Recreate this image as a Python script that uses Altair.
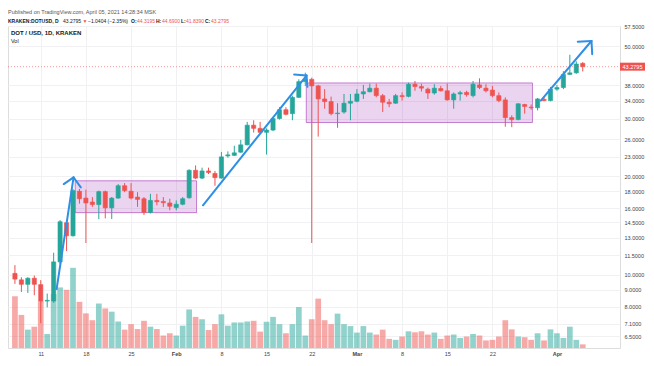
import altair as alt
import pandas as pd

# ---------------- data ----------------
start_date = "2021-01-07"
n_days = 89

opens = [10.11, 9.66, 9.36, 9.77, 9.34, 8.32, 8.32, 10.96, 14.44, 13.17,
         18.02, 17.17, 16.70, 16.40, 17.97, 16.03, 17.17, 18.73, 18.02, 17.29,
         17.09, 15.52, 16.89, 16.77, 16.59, 16.06, 16.44, 17.21, 20.88, 19.76,
         20.78, 20.42, 19.76, 23.10, 23.19, 23.71, 24.97, 28.68, 28.04, 27.27,
         27.71, 30.04, 31.97, 31.10, 34.88, 38.95, 39.60, 37.81, 34.49, 33.86,
         31.10, 31.45, 33.47, 33.93, 35.72, 36.28, 37.21, 35.30, 33.70, 33.47,
         35.30, 35.12, 38.26, 37.63, 36.96, 35.96, 37.11, 36.53, 34.26, 35.72,
         36.11, 35.30, 38.07, 37.21, 36.71, 35.30, 34.26, 30.25, 29.83, 33.17,
         32.55, 32.42, 34.40, 34.09, 36.96, 37.37, 40.98, 41.44, 44.3195]
highs = [10.71, 9.84, 9.84, 9.96, 9.64, 8.77, 11.69, 14.71, 14.60, 18.31,
         18.31, 18.22, 17.29, 18.10, 18.10, 17.29, 18.95, 19.08, 19.08, 17.90,
         17.29, 17.69, 17.69, 17.29, 17.09, 16.89, 17.29, 21.02, 21.61, 21.27,
         21.27, 20.78, 23.76, 23.85, 24.81, 25.86, 29.35, 29.69, 29.35, 28.04,
         30.37, 32.55, 32.55, 35.28, 39.60, 41.50, 40.06, 38.07, 36.96, 35.05,
         33.47, 35.72, 35.72, 36.96, 38.07, 38.41, 38.41, 35.72, 34.49, 35.72,
         36.11, 38.68, 39.14, 38.41, 37.37, 38.26, 37.81, 38.41, 36.11, 36.53,
         36.53, 39.14, 39.87, 38.26, 37.81, 36.11, 34.88, 30.74, 33.47, 33.33,
         33.17, 34.72, 34.88, 37.55, 38.07, 41.93, 47.07, 44.94, 44.69]
lows = [9.39, 8.87, 8.81, 8.67, 7.12, 7.96, 8.22, 10.80, 11.83, 13.10,
        16.51, 12.52, 16.14, 14.81, 14.88, 14.81, 17.09, 17.90, 17.01, 16.14,
        15.24, 15.41, 16.32, 16.14, 15.76, 15.76, 16.32, 17.09, 19.62, 19.62,
        20.33, 18.73, 19.70, 22.81, 23.08, 23.61, 24.90, 27.23, 27.08, 23.32,
        27.49, 29.83, 30.74, 29.69, 34.72, 37.80, 12.52, 26.46, 32.20, 30.74,
        28.15, 31.10, 29.69, 33.70, 34.49, 36.11, 34.88, 31.45, 32.55, 33.33,
        34.09, 34.88, 36.53, 36.35, 34.49, 35.55, 36.35, 34.09, 32.20, 34.09,
        35.05, 34.88, 36.96, 36.11, 34.88, 33.70, 28.37, 28.28, 29.69, 31.10,
        31.97, 31.82, 33.93, 33.93, 36.53, 36.96, 40.90, 41.16, 41.839]
closes = [9.71, 9.36, 9.77, 9.36, 8.32, 8.36, 10.96, 14.54, 13.17, 18.10,
          17.09, 16.59, 16.40, 17.97, 16.03, 17.17, 18.73, 18.10, 17.17, 17.01,
          15.52, 16.89, 16.73, 16.62, 16.21, 16.44, 17.09, 20.88, 19.76, 20.78,
          20.56, 19.82, 22.95, 23.27, 23.61, 24.97, 28.68, 28.04, 27.27, 27.71,
          30.04, 31.97, 30.95, 34.88, 38.95, 39.60, 37.81, 34.49, 33.86, 31.10,
          31.23, 33.47, 33.93, 35.72, 36.28, 37.21, 35.30, 33.70, 33.33, 35.30,
          35.05, 38.26, 37.63, 37.21, 35.96, 37.21, 36.53, 34.26, 35.72, 36.04,
          35.55, 38.26, 37.37, 36.53, 35.30, 34.09, 30.25, 29.83, 33.33, 32.71,
          32.42, 34.49, 34.09, 36.96, 37.37, 40.98, 41.44, 44.11, 43.2795]
volumes = [52.7, 33.7, 18.7, 21.7, 47.7, 14.3, 55.0, 61.7, 59.3, 81.7,
           47.0, 35.3, 28.3, 45.3, 40.3, 37.0, 27.0, 18.7, 24.3, 19.3,
           27.7, 21.7, 19.3, 12.7, 15.0, 12.7, 22.7, 39.3, 31.7, 29.3,
           18.3, 24.3, 34.3, 22.7, 26.0, 26.0, 27.0, 27.7, 16.7, 26.7,
           31.7, 24.3, 15.0, 24.3, 41.7, 12.7, 29.3, 50.3, 28.3, 24.3,
           35.0, 24.3, 22.3, 15.7, 22.3, 15.7, 13.7, 18.7, 9.3, 8.3,
           11.7, 17.0, 16.0, 17.0, 13.7, 15.7, 9.3, 12.7, 13.7, 10.3,
           11.7, 14.3, 12.7, 7.7, 8.3, 11.7, 28.3, 19.0, 11.7, 11.0,
           8.3, 15.0, 7.7, 19.0, 15.0, 10.3, 21.7, 8.3, 3.7]

x_tick_dates = ["2021-01-11", "2021-01-18", "2021-01-25", "2021-02-01",
                "2021-02-08", "2021-02-15", "2021-02-22", "2021-03-01",
                "2021-03-08", "2021-03-15", "2021-03-22", "2021-04-01"]
price_ticks = [6.5, 7.1, 8, 9, 10, 11.5, 13, 14.5, 16, 18, 20, 23, 26, 30,
               34, 38, 50, 57.5]

box_start = ["2021-01-16T08:00Z", "2021-02-21T03:40Z"]
box_end = ["2021-02-04T03:30Z", "2021-03-28T05:00Z"]
box_top = [19.39, 38.60]
box_bottom = [15.50, 29.22]

arrow_from_date = ["2021-01-13T11:00Z", "2021-01-16T02:00Z", "2021-01-16T02:00Z",
                   "2021-02-05T03:30Z", "2021-02-21T04:30Z", "2021-02-21T04:30Z",
                   "2021-03-29T12:00Z", "2021-04-06T08:30Z", "2021-04-06T08:30Z"]
arrow_from_price = [9.05, 19.86, 19.86, 16.32, 40.65, 40.65, 34.09, 51.85, 51.85]
arrow_to_date = ["2021-01-16T02:00Z", "2021-01-14T13:30Z", "2021-01-17T05:00Z",
                 "2021-02-21T04:30Z", "2021-02-19T06:30Z", "2021-02-21T08:00Z",
                 "2021-04-06T08:30Z", "2021-04-04T05:30Z", "2021-04-06T11:15Z"]
arrow_to_price = [19.86, 18.95, 18.52, 40.65, 40.93, 37.55, 51.85, 51.60, 47.27]

last_price = 43.2795
x_domain_dates = ["2021-01-06T16:48Z", "2021-04-10T00:00Z"]
price_domain = [5.98, 57.62]
vol_domain = [0, 328]


def ms(s):
    t = pd.Timestamp(s)
    if t.tzinfo is None:
        t = t.tz_localize("UTC")
    return int(t.value // 10**6)


dates = [ms(d) for d in pd.date_range(start_date, periods=n_days, freq="D").strftime("%Y-%m-%d")]
df = pd.DataFrame({"date": dates, "open": opens, "high": highs, "low": lows,
                   "close": closes, "volume": volumes})
boxes_df = pd.DataFrame({"start": [ms(s) for s in box_start], "end": [ms(s) for s in box_end],
                         "top": box_top, "bottom": box_bottom})
arrows_df = pd.DataFrame({"x1": [ms(s) for s in arrow_from_date], "p1": arrow_from_price,
                          "x2": [ms(s) for s in arrow_to_date], "p2": arrow_to_price})
last_df = pd.DataFrame({"price": [last_price], "label": [f"{last_price:.4f}"]})

# ---------------- style ----------------
UP = "#26a69a"
DOWN = "#ef5350"
FONT = "Liberation Sans"
W, H = 612, 322

x_scale = alt.Scale(type="utc", domain=[ms(d) for d in x_domain_dates], nice=False)
price_scale = alt.Scale(type="log", domain=price_domain, nice=False)
vol_scale = alt.Scale(domain=vol_domain, nice=False)

x_axis = alt.Axis(values=[ms(d) for d in x_tick_dates],
                  labelExpr="utcdate(datum.value) == 1 ? utcFormat(datum.value, '%b') : utcFormat(datum.value, '%-d')",
                  labelFontWeight={"condition": {"test": "utcdate(datum.value) == 1", "value": "bold"},
                                   "value": "normal"},
                  grid=True, gridColor="#f1f1f3", gridWidth=1, ticks=False, domain=False,
                  labelFontSize=5.5, labelColor="#444444", labelFont=FONT, labelPadding=3,
                  labelOverlap=False, labelFlush=False, title=None)
y_axis = alt.Axis(orient="right", values=price_ticks, format=".4f", grid=True,
                  gridColor="#f1f1f3", ticks=False, domain=False, labelFontSize=5.5,
                  labelColor="#444444", labelFont=FONT, labelPadding=4,
                  labelOverlap=False, labelFlush=False, title=None)

updown = alt.condition("datum.close >= datum.open", alt.value(UP), alt.value(DOWN))


def X(field):
    return alt.X(f"{field}:T", scale=x_scale, axis=x_axis, title=None)


def Yp(field):
    return alt.Y(f"{field}:Q", scale=price_scale, axis=y_axis, title=None)


vol = alt.Chart(df).mark_bar(size=5.7, opacity=0.5).encode(
    x=X("date"),
    y=alt.Y("volume:Q", scale=vol_scale, axis=None, title=None),
    color=updown,
)

boxes = alt.Chart(boxes_df).mark_rect(fill="#9c27b0", fillOpacity=0.2, stroke="#9c27b0",
                                       strokeOpacity=0.55, strokeWidth=1).encode(
    x=X("start"), x2="end:T", y=Yp("top"), y2="bottom:Q")

wicks = alt.Chart(df).mark_rule(strokeWidth=1).encode(
    x=X("date"), y=Yp("low"), y2="high:Q", color=updown)

bodies = alt.Chart(df).mark_bar(size=4.2, strokeWidth=0.6).encode(
    x=X("date"), y=Yp("open"), y2="close:Q", color=updown, stroke=updown)

last_line = alt.Chart(last_df).mark_rule(color=DOWN, strokeDash=[1, 2], opacity=0.6,
                                         strokeWidth=1).encode(
    y=Yp("price"), x=alt.value(0), x2=alt.value(W))

arrows = alt.Chart(arrows_df).mark_rule(color="#2f8fe6", strokeWidth=2, strokeCap="round").encode(
    x=X("x1"), x2="x2:T", y=Yp("p1"), y2="p2:Q")

tag = alt.Chart(last_df).mark_tick(orient="horizontal", size=25, thickness=8, color=DOWN,
                                   opacity=1).encode(
    y=Yp("price"), x=alt.value(W + 12.5))
tag_text = alt.Chart(last_df).mark_text(font=FONT, fontSize=5.5, color="white",
                                        align="center", baseline="middle").encode(
    y=Yp("price"), x=alt.value(W + 12.5), text="label:N")

layers = [boxes, wicks, bodies, last_line, arrows, tag, tag_text]


def txt(s, x, y, color="#131722", weight="normal", size=5.5):
    return alt.Chart(pd.DataFrame({"t": [s]})).mark_text(
        font=FONT, fontSize=size, color=color, fontWeight=weight, align="left",
        baseline="middle").encode(x=alt.value(x), y=alt.value(y), text="t:N")


layers.append(txt("Published on TradingView.com, April 05, 2021 14:28:34 MSK", 0, -14,
                  color="#555555", size=5.5))
pieces = [("KRAKEN:DOTUSD, D", 0, "#131722", "bold"),
          ("43.2795", 55, "#131722", "normal"),
          ("\u25bc", 74.5, DOWN, "normal"),
          ("\u22121.0404 (\u22122.35%)", 80, "#131722", "normal"),
          ("O:", 123, "#131722", "bold"),
          ("44.3195", 129, DOWN, "normal"),
          ("H:", 148, "#131722", "bold"),
          ("44.6900", 154, DOWN, "normal"),
          ("L:", 173, "#131722", "bold"),
          ("41.8390", 178, DOWN, "normal"),
          ("C:", 197, "#131722", "bold"),
          ("43.2795", 203, DOWN, "normal")]
for s, xpos, col, wt in pieces:
    layers.append(txt(s, xpos, -5.5, color=col, weight=wt, size=5))
layers.append(txt("DOT / USD, 1D, KRAKEN", 3, 7, color="#131722", weight="bold", size=6))
layers.append(txt("Vol", 3, 15, color="#131722", size=5.5))

price_layer = alt.layer(*layers)

chart = alt.layer(vol, price_layer).resolve_scale(y="independent").properties(
    width=W, height=H,
    autosize=alt.AutoSizeParams(type="none"),
    padding={"left": 0, "top": 18, "right": 26, "bottom": 10},
).configure_view(stroke="#b5b8bf", strokeWidth=1).configure(background="white")

chart.save("out.html", embed_options={"renderer": "svg", "actions": False})
